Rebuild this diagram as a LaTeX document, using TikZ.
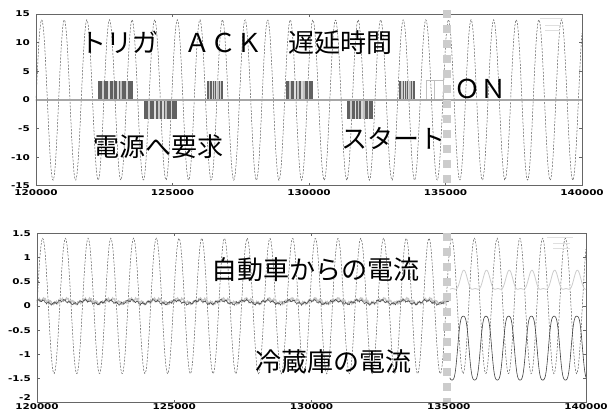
\documentclass[tikz,border=0pt]{standalone}
\usepackage{fontspec}
\newfontfamily\jpfont{Noto Sans CJK JP}
\newfontfamily\tickfont[FakeStretch=1.3]{DejaVu Sans}

\begin{document}
\begin{tikzpicture}[x=1pt,y=1pt,
        frame/.style={draw=black!60,line width=1pt},
        tickmark/.style={black!60,line width=0.6pt},
        sinedash/.style={black!65,line width=0.5pt,dash pattern=on 2pt off 1.4pt},
        zeroline/.style={gray!70,line width=1.2pt},
        marker/.style={gray!40,line width=8pt,dash pattern=on 8pt off 7pt},
        legendline/.style={gray!25,line width=0.5pt},
        lbl/.style={font=\jpfont\fontsize{26}{26}\selectfont,inner sep=0pt},
        ticklbl/.style={font=\tickfont\bfseries\fontsize{8}{8}\selectfont,inner sep=0pt}]
    \useasboundingbox (0,0) rectangle (609,410);
    % upper plot
    \begin{scope}[shift={(36,310)},x=27.3pt,y=5.733pt]
        \draw[sinedash] plot[domain=0:20,samples=700] (\x,{14*cos(360*(\x-0.209)/0.8278)});
        \foreach \a/\b/\h in {2.27/3.55/3.4,3.96/5.17/-3.3,6.26/6.85/3.4,9.16/10.15/3.4,11.39/12.34/-3.3,13.30/13.88/3.4}{
            \fill[black!62] (\a,0) rectangle (\b,\h);
            \foreach \f/\c in {0.12/40,0.3/25,0.42/45,0.55/30,0.63/50,0.8/35}
                \fill[gray!\c] ({\a+\f*(\b-\a)},0) rectangle ({\a+\f*(\b-\a)+0.06},\h);
        }
        \draw[gray!50,line width=0.5pt] (14.29,0) rectangle (14.91,3.4);
        \draw[gray!50,line width=0.5pt] (14.6,0) -- (14.6,3.4);
        \draw[zeroline] (0,0) -- (20,0);
        \draw[frame] (0,-15) rectangle (20,15);
        \foreach \t in {-10,-5,5,10}{
            \draw[tickmark] (0,\t) -- ++(3pt,0);
            \draw[tickmark] (20,\t) -- ++(-3pt,0);
        }
        \foreach \t in {5,10,15}{
            \draw[tickmark] (\t,-15) -- ++(0,3pt);
            \draw[tickmark] (\t,15) -- ++(0,-3pt);
        }
        \foreach \t [count=\i] in {15,10,5,0,-5,-10,-15}
            \node[ticklbl,anchor=east] (ya\i) at ([xshift=-6pt]0,\t) {\t};
        \foreach \t/\v [count=\i] in {0/120000,5/125000,10/130000,15/135000,20/140000}
            \node[ticklbl] (xa\i) at ([yshift=-7pt]\t,-15) {\v};
    \end{scope}
    \draw[legendline] (540,392) -- (563,392);
    \draw[legendline] (545,385) -- (560,385);
    \draw[legendline] (545,380) -- (560,380);
    \draw[marker] (446.5,400) -- (446.5,225);
    % lower plot
    \begin{scope}[shift={(37,104)},x=27.45pt,y=48.4pt]
        \draw[sinedash] plot[domain=0:20,samples=700] (\x,{1.4*cos(360*(\x-0.207)/0.8278)});
        \draw[gray!45,line width=1.3pt] plot[domain=0:15.04,samples=700]
            (\x,{0.1+0.04*sin(360*\x/0.8278)+0.025*sin(mod(\x,0.21)*1714.3)+0.015*sin(mod(\x,0.07)*5142.9)});
        \draw[black!70,line width=0.5pt] plot[domain=0:15.04,samples=700]
            (\x,{0.08+0.035*sin(360*\x/0.8278+40)+0.02*sin(mod(\x,0.19)*1894.7)+0.015*sin(mod(\x,0.06)*6000)});
        \draw[gray!40,line width=0.8pt] plot[domain=15.04:20,samples=300]
            (\x,{0.48+0.19*cos(360*(\x-15.55)/0.827)+0.07*cos(720*(\x-15.55)/0.827)});
        \draw[black!75,line width=0.6pt] plot[domain=15.04:20,samples=300]
            (\x,{-0.87+0.72*cos(360*(\x-15.53)/0.827)-0.06*cos(1080*(\x-15.53)/0.827)});
        \draw[frame] (0,-2) rectangle (20,1.5);
        \foreach \t in {-1.5,-1,-0.5,0,0.5,1}{
            \draw[tickmark] (0,\t) -- ++(3pt,0);
            \draw[tickmark] (20,\t) -- ++(-3pt,0);
        }
        \foreach \t in {5,10,15}{
            \draw[tickmark] (\t,-2) -- ++(0,3pt);
            \draw[tickmark] (\t,1.5) -- ++(0,-3pt);
        }
        \foreach \t [count=\i] in {1.5,1,0.5,0,-0.5,-1,-1.5}
            \node[ticklbl,anchor=east] (yb\i) at ([xshift=-6pt]0,\t) {\t};
        \node[ticklbl,anchor=south east] (yb8) at ([xshift=-6pt,yshift=2pt]0,-2) {-2};
        \foreach \t/\v [count=\i] in {0/120000,5/125000,10/130000,15/135000,20/140000}
            \node[ticklbl,anchor=south] (xb\i) at ([yshift=-7pt]\t,-2) {\v};
    \end{scope}
    \draw[legendline] (547,173) -- (573,173);
    \draw[legendline] (553,167) -- (570,167);
    \draw[legendline] (553,162) -- (570,162);
    \draw[marker] (446.5,177) -- (446.5,8);
    % labels
    \node[lbl] (trig) at (236,367) {トリガ　ＡＣＫ　遅延時間};
    \node[lbl] (req) at (158,263) {電源へ要求};
    \node[lbl] (start) at (393,272) {スタート};
    \node[lbl] (on) at (480,321) {ＯＮ};
    \node[lbl] (car) at (315,140) {自動車からの電流};
    \node[lbl] (fridge) at (333,48) {冷蔵庫の電流};
\end{tikzpicture}
\end{document}
